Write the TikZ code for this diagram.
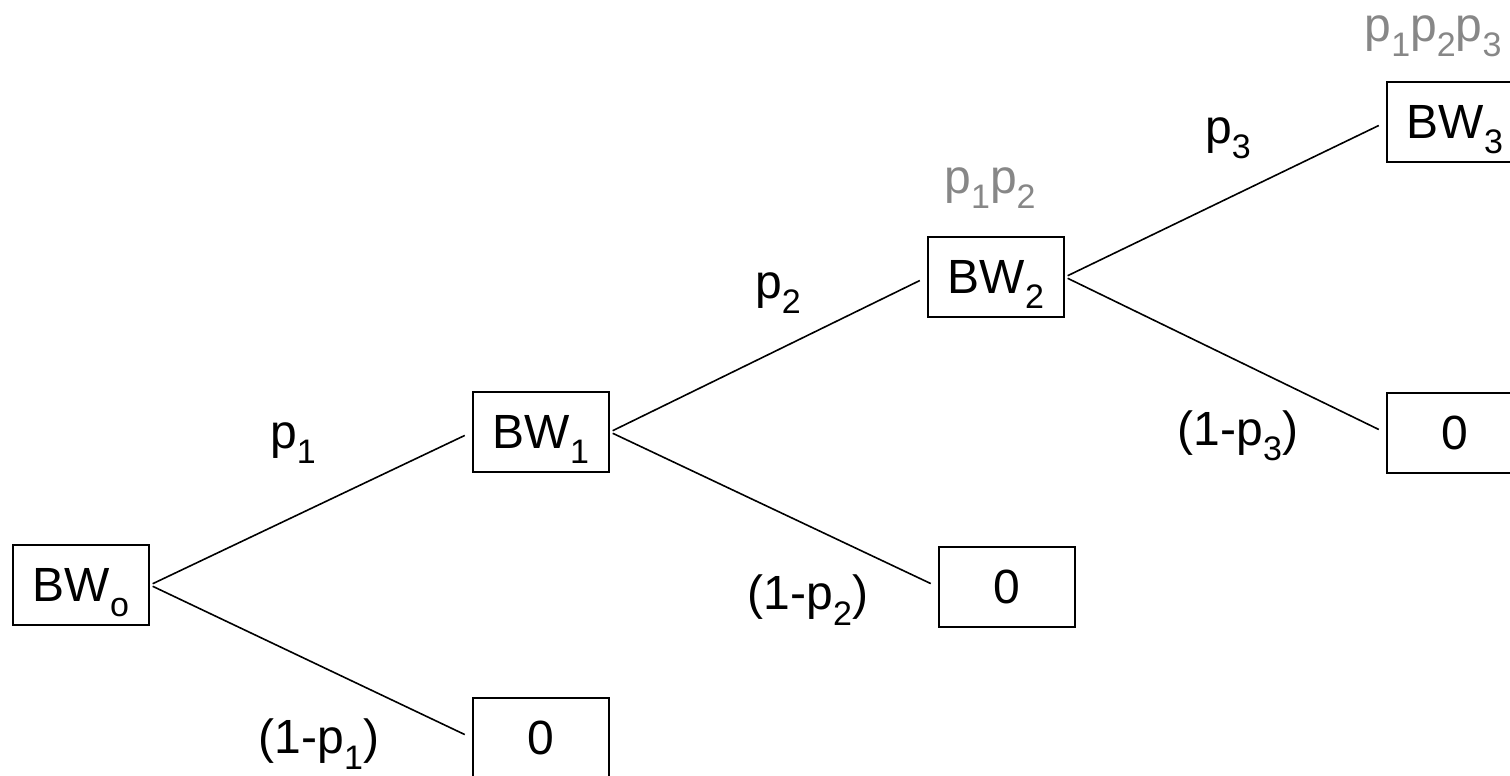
\documentclass[tikz,border=0pt]{standalone}
\usepackage{fontspec}
\setmainfont{Liberation Sans}
\newcommand{\lowsub}[1]{\raisebox{-0.32em}{\fontsize{34}{34}\selectfont #1}}
\begin{document}
\begin{tikzpicture}[x=1pt,y=-1pt,
  box/.style={draw=black,line width=2pt,minimum width=136pt,minimum height=80pt,
    inner sep=0pt,text depth=0pt,font=\fontsize{48}{52}\selectfont},
  lbl/.style={inner sep=0pt,font=\fontsize{48}{52}\selectfont},
  prob/.style={lbl,text=black!47},
  edge/.style={line width=1.6pt,shorten <=3pt,shorten >=8pt}]
\useasboundingbox (0,0) rectangle (1510,776);
% states of the tree
\node[box] (b0) at (81,585) {BW\lowsub{o}};
\node[box] (b1) at (541,432) {BW\lowsub{1}};
\node[box] (z1) at (541,738) {0};
\node[box] (b2) at (996,277) {BW\lowsub{2}};
\node[box] (z2) at (1007,587) {0};
\node[box] (b3) at (1455,122) {BW\lowsub{3}};
\node[box] (z3) at (1455,433) {0};
% branches
\draw[edge] (b0.east) -- (b1.west);
\draw[edge] (b0.east) -- (z1.west);
\draw[edge] (b1.east) -- (b2.west);
\draw[edge] (b1.east) -- (z2.west);
\draw[edge] (b2.east) -- (b3.west);
\draw[edge] (b2.east) -- (z3.west);
% branch probabilities
\node[lbl] (l1) at (293,443) {p\lowsub{1}};
\node[lbl] (m1) at (319,744) {(1-p\lowsub{1})};
\node[lbl] (l2) at (778,293) {p\lowsub{2}};
\node[lbl] (m2) at (808,600) {(1-p\lowsub{2})};
\node[lbl] (l3) at (1228,138) {p\lowsub{3}};
\node[lbl] (m3) at (1238,436) {(1-p\lowsub{3})};
% cumulative probabilities
\node[prob] (c2) at (990,188) {p\lowsub{1}p\lowsub{2}};
\node[prob] (c3) at (1433,36) {p\lowsub{1}p\lowsub{2}p\lowsub{3}};
\end{tikzpicture}
\end{document}
